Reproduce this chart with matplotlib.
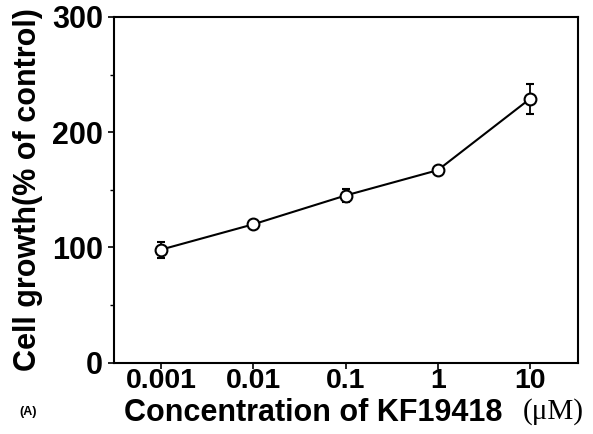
import numpy as np
import matplotlib.pyplot as plt

conc = [0.001, 0.01, 0.1, 1, 10]
growth = [98, 120, 145, 167, 229]
err = [7, 0, 6, 0, 13]
xtick_labels = ['0.001', '0.01', '0.1', '1', '10']

W, H = 593, 434
fig = plt.figure(figsize=(W / 100, H / 100), dpi=100)
ax = fig.add_axes([114 / W, 1 - 362.5 / H, (578 - 114) / W, (362.5 - 17) / H])

sans = 'Liberation Sans'
ax.errorbar(conc, growth, yerr=err, color='black', lw=1.5, elinewidth=1.3,
            capsize=3, capthick=1.3, marker='o', ms=8.5, mfc='white', mec='black', mew=1.5)

ax.set_xscale('log')
ax.set_xlim(10 ** -3.51, 10 ** 1.52)
ax.set_ylim(0, 300)
ax.set_xticks(conc)
ax.set_xticklabels(xtick_labels)
ax.minorticks_off()
ax.set_yticks([0, 100, 200, 300])
ax.set_yticks([50, 150, 250], minor=True)
ax.tick_params(which='major', length=4, width=1.2, direction='out')
ax.tick_params(which='minor', length=3, width=1.0, direction='out')
ax.tick_params(axis='x', pad=0)
ax.tick_params(axis='y', pad=4)
for lab in ax.get_xticklabels():
    lab.set_fontfamily(sans)
    lab.set_fontweight('bold')
    lab.set_fontsize(20.5)
for lab in ax.get_yticklabels():
    lab.set_fontfamily(sans)
    lab.set_fontweight('bold')
    lab.set_fontsize(22)
for s in ax.spines.values():
    s.set_linewidth(1.5)

fig.text(28 / W, 1 - 190 / H, 'Cell growth(% of control)', fontfamily=sans,
         fontweight='bold', fontsize=22, rotation=90, ha='center', va='center')

fig.text(124 / W, 1 - 413 / H, 'Concentration of KF19418', fontfamily=sans,
         fontweight='bold', fontsize=22, ha='left', va='center')
fig.text(584 / W, 1 - 412 / H, '(\u03bcM)', fontfamily='Liberation Serif',
         fontsize=21, ha='right', va='center')
fig.text(19 / W, 1 - 412 / H, '(A)', fontfamily=sans, fontweight='bold',
         fontsize=9, ha='left', va='center')

fig.savefig('out.png', dpi=100)
